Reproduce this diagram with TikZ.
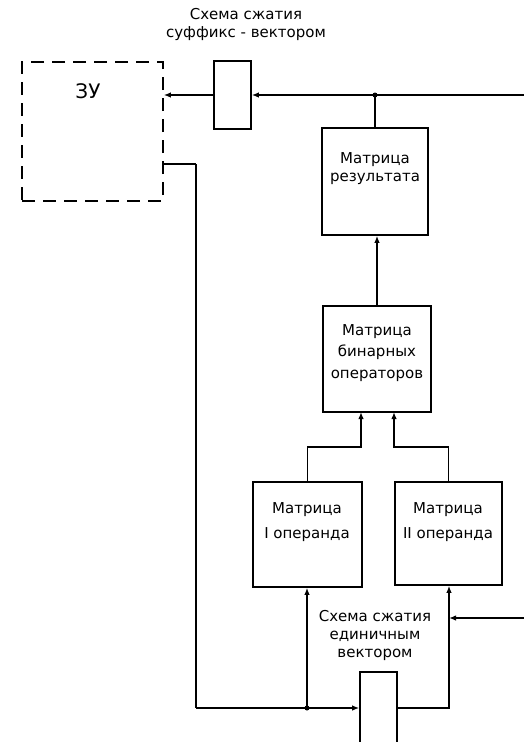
\documentclass[tikz,border=0pt]{standalone}
\usepackage{fontspec}
\setmainfont{DejaVu Sans}
\usetikzlibrary{arrows.meta,calc}
\begin{document}
\begin{tikzpicture}[x=1pt,y=-1pt,
  line width=1.6pt,
  box/.style={draw,rectangle,inner sep=0pt,line width=1.6pt},
  arr/.style={-{Latex[length=7pt,width=5.5pt]}},
  txt/.style={align=center,inner sep=0pt},
  fa/.style={font=\fontsize{15}{18}\selectfont},
  fb/.style={font=\fontsize{15}{21.5}\selectfont},
  fc/.style={font=\fontsize{15}{25}\selectfont},
  dot/.style={circle,fill,inner sep=0pt,minimum size=5pt}]
\useasboundingbox (0,0) rectangle (524,742);
% blocks
\node[box,dash pattern=on 13pt off 8pt,minimum width=141pt,minimum height=139pt] (zu) at (92.5,131.5) {};
\node[txt,font=\fontsize{20}{22}\selectfont] (zut) at (88,91) {ЗУ};
\node[box,minimum width=37pt,minimum height=68pt] (suf) at (232.5,95) {};
\node[txt,fa] (suft) at (246,24) {Схема сжатия\\суффикс - вектором};
\node[box,minimum width=106pt,minimum height=107pt] (res) at (375,181.5) {};
\node[txt,fa] (rest) at (375,169) {Матрица\\результата};
\node[box,minimum width=108pt,minimum height=106pt] (bin) at (377,359) {};
\node[txt,fb] (bint) at (377,353) {Матрица\\бинарных\\операторов};
\node[box,minimum width=109pt,minimum height=105pt] (op1) at (307.5,534.5) {};
\node[txt,fc] (op1t) at (307,522) {Матрица\\I операнда};
\node[box,minimum width=107pt,minimum height=103pt] (op2) at (448.5,533.5) {};
\node[txt,fc] (op2t) at (448,522) {Матрица\\II операнда};
\node[box,minimum width=37pt,minimum height=72pt] (uni) at (378.5,708) {};
\node[txt,fa] (unit) at (375,635) {Схема сжатия\\единичным\\вектором};
% coordinates
\coordinate (rin) at (524,95);
\coordinate (rin2) at (524,618);
\coordinate (zuo) at (163,164);
\coordinate (cl) at (196,164);
\coordinate (cb) at (196,708);
\coordinate (j1) at (307,708);
\coordinate (j2) at (449,618);
\coordinate (jt) at (375,95);
\coordinate (b1) at (361,412);
\coordinate (b2) at (394,412);
% connectors
\draw[arr] (rin) -- (suf.east);
\draw[arr] (suf.west) -- (zu.east |- suf.west);
\draw (res.north) -- (jt);
\node[dot] (jtd) at (jt) {};
\draw[arr] (bin.north) -- (bin.north |- res.south);
\draw[arr] (op1.north) |- ($(b1)+(0,35)$) -- (b1);
\draw[arr] (op2.north) |- ($(b2)+(0,35)$) -- (b2);
\draw (zuo) -- (cl);
\draw[line width=2.2pt] (cl) -- (cb);
\draw[arr] (cb) -- (uni.west);
\node[dot] (j1d) at (j1) {};
\draw[arr] (j1) -- (j1 |- op1.south);
\draw[arr] (uni.east) -| (j2 |- op2.south);
\draw[arr] (rin2) -- (j2);
\end{tikzpicture}
\end{document}
